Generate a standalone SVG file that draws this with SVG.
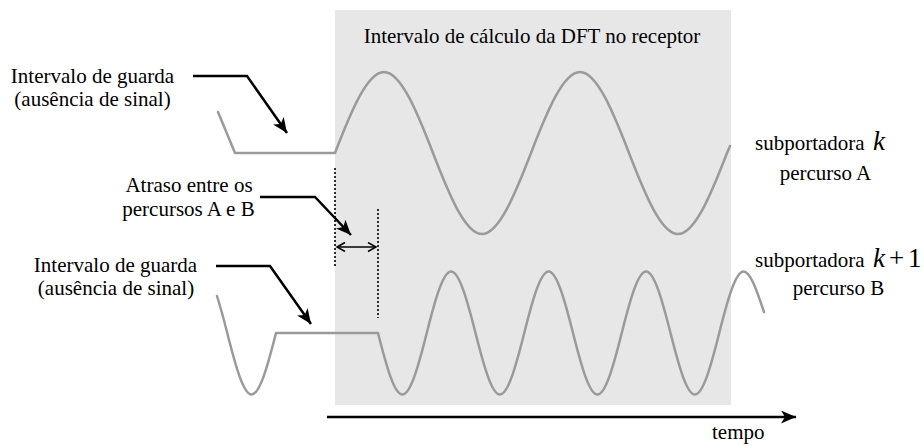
<svg xmlns="http://www.w3.org/2000/svg" width="924" height="446" viewBox="0 0 924 446">
<style>
.mid{text-anchor:middle}
.wave{fill:none;stroke:#9a9a9a;stroke-width:2.5;stroke-linejoin:round;stroke-linecap:round}
.lead{fill:none;stroke:#000;stroke-width:2.5;stroke-linejoin:miter}
.dot{fill:none;stroke:#000;stroke-width:1.6;stroke-dasharray:2 2}
</style>
<defs>
<marker id="head" markerUnits="userSpaceOnUse" markerWidth="18" markerHeight="14" refX="15" refY="6.5" orient="auto">
<path d="M0,0 L15,6.5 L0,13 L4,6.5 z" fill="#000"/>
</marker>
<marker id="open" markerUnits="userSpaceOnUse" markerWidth="12" markerHeight="12" refX="9" refY="5" orient="auto-start-reverse">
<path d="M1,0.5 L9,5 L1,9.5" fill="none" stroke="#000" stroke-width="1.5"/>
</marker>
</defs>
<rect id="dft-window" x="335" y="10" width="396" height="395" fill="#e7e7e7"/>
<g id="wave-a">
<path class="wave" d="M218,112 L235,153 L335,153 C351,111.5 367.3,72 384,72 C400.7,72 417,111.5 433,153 C449,194.5 465.3,234 482,234 C498.7,234 515,194.5 531,153 C547,111.5 563.3,72 580,72 C596.7,72 613,111.5 629,153 C645,194.5 661.3,234 678,234 C694.7,234 711,194.5 727,153 L730,146"/>
</g>
<g id="wave-b">
<path class="wave" d="M217,296 Q222,312 227.25,333 C235.2,364.5 243.3,394.5 251.6,394.5 C259.9,394.5 268,364.5 276,333 L378,333 C386,364.5 394.1,394.5 402.4,394.5 C410.7,394.5 418.8,364.5 426.75,333 C434.7,301.5 442.8,271.5 451.1,271.5 C459.4,271.5 467.5,301.5 475.5,333 C483.5,364.5 491.6,394.5 499.9,394.5 C508.2,394.5 516.3,364.5 524.25,333 C532.2,301.5 540.3,271.5 548.6,271.5 C556.9,271.5 565,301.5 573,333 C581,364.5 589.1,394.5 597.4,394.5 C605.7,394.5 613.8,364.5 621.75,333 C629.7,301.5 637.8,271.5 646.1,271.5 C654.4,271.5 662.5,301.5 670.5,333 C678.5,364.5 686.6,394.5 694.9,394.5 C703.2,394.5 711.3,364.5 719.25,333 C727.2,301.5 735.3,271.5 743.6,271.5 C750,271.5 756,288 764,312"/>
</g>
<g id="connectors">
<path class="lead" d="M193,76 L247,76 L287,133" marker-end="url(#head)"/>
<path class="lead" d="M260,197 L315,197 L351,235" marker-end="url(#head)"/>
<path class="lead" d="M216,266 L270,266 L311,324" marker-end="url(#head)"/>
<path class="dot" d="M335,168 L335,266"/>
<path class="dot" d="M378,209 L378,318"/>
<path d="M337,247 L376,247" fill="none" stroke="#000" stroke-width="1.6" marker-start="url(#open)" marker-end="url(#open)"/>
<path class="lead" d="M327,417 L796,417" marker-end="url(#head)"/>
</g>
<g id="label-dft">
<text class="mid" x="532" y="43" font-family="Liberation Serif, serif" font-size="21">Intervalo de cálculo da DFT no receptor</text>
</g>
<g id="label-guard-a">
<text class="mid" x="92.5" y="83" font-family="Liberation Serif, serif" font-size="21">Intervalo de guarda</text>
<text class="mid" x="92.5" y="106" font-family="Liberation Serif, serif" font-size="21">(ausência de sinal)</text>
</g>
<g id="label-delay">
<text class="mid" x="189" y="192" font-family="Liberation Serif, serif" font-size="21">Atraso entre os</text>
<text class="mid" x="188.5" y="216" font-family="Liberation Serif, serif" font-size="21">percursos A e B</text>
</g>
<g id="label-guard-b">
<text class="mid" x="115.5" y="272" font-family="Liberation Serif, serif" font-size="21">Intervalo de guarda</text>
<text class="mid" x="116" y="295" font-family="Liberation Serif, serif" font-size="21">(ausência de sinal)</text>
</g>
<g id="label-sub-a">
<text x="755" y="150" font-family="Liberation Serif, serif" font-size="21">subportadora <tspan x="873" font-size="27" font-style="italic">k</tspan></text>
<text class="mid" x="825.5" y="180" font-family="Liberation Serif, serif" font-size="21">percurso A</text>
</g>
<g id="label-sub-b">
<text x="755" y="267" font-family="Liberation Serif, serif" font-size="21">subportadora <tspan x="873" font-size="27" font-style="italic">k</tspan><tspan x="889" font-size="27">+</tspan><tspan x="908" font-size="27">1</tspan></text>
<text class="mid" x="838.5" y="295" font-family="Liberation Serif, serif" font-size="21">percurso B</text>
</g>
<g id="label-time">
<text x="712" y="439" font-family="Liberation Serif, serif" font-size="21">tempo</text>
</g>
</svg>
